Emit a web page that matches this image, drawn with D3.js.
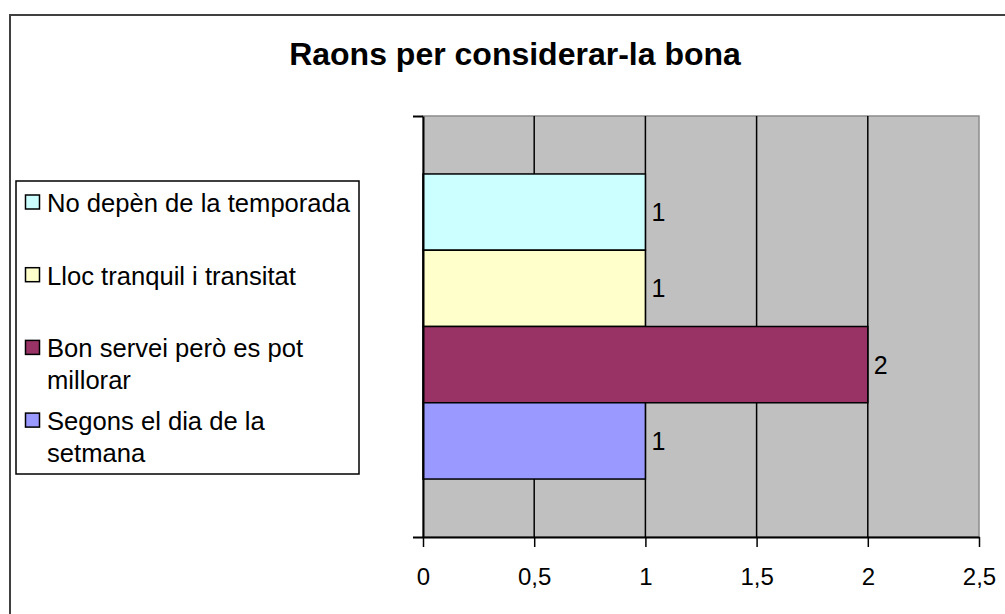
<!DOCTYPE html>
<html>
<head>
<meta charset="utf-8">
<script src="https://cdn.jsdelivr.net/npm/d3@7"></script>
<style>
  body { margin: 0; background: #fff; }
  text { font-family: "Liberation Sans", Arial, sans-serif; }
</style>
</head>
<body>
<div id="chart"></div>
<script>
// data
const series = ["No depèn de la temporada", "Lloc tranquil i transitat", "Bon servei però es pot millorar", "Segons el dia de la setmana"]
const legendLines = [["No depèn de la temporada"], ["Lloc tranquil i transitat"], ["Bon servei però es pot", "millorar"], ["Segons el dia de la", "setmana"]]
const values = [1, 1, 2, 1]
const colors = ["#CCFFFF", "#FFFFCC", "#993366", "#9999FF"]
const xTicks = [0, 0.5, 1, 1.5, 2, 2.5]

const W = 1005, H = 614
const plot = {left: 423, right: 979, top: 116, bottom: 537}

const svg = d3.select("#chart")
  .append("svg")
    .attr("width", W)
    .attr("height", H)

// outer frame (runs off the right and bottom of the picture)
svg.append("rect")
  .attr("x", 10).attr("y", 15)
  .attr("width", 1020).attr("height", 640)
  .attr("fill", "#fff")
  .attr("stroke", "#404040")
  .attr("stroke-width", 2)

svg.append("text")
  .attr("x", 515).attr("y", 65)
  .attr("text-anchor", "middle")
  .attr("font-size", 32)
  .attr("font-weight", "bold")
  .text("Raons per considerar-la bona")

const x = d3.scaleLinear()
  .domain([0, 2.5])
  .range([plot.left, plot.right])

const y = d3.scaleBand()
  .domain(series)
  .range([plot.top, plot.bottom])
  .paddingInner(0)
  .paddingOuter(0.76)

// plot background
svg.append("rect")
  .attr("x", plot.left).attr("y", plot.top)
  .attr("width", plot.right - plot.left)
  .attr("height", plot.bottom - plot.top)
  .attr("fill", "#C0C0C0")
  .attr("stroke", "#8c8c8c")
  .attr("stroke-width", 1.5)

// gridlines
svg.append("g")
  .selectAll("line")
  .data(xTicks.filter(d => d > 0 && d < 2.5))
  .join("line")
    .attr("x1", d => x(d)).attr("x2", d => x(d))
    .attr("y1", plot.top).attr("y2", plot.bottom)
    .attr("stroke", "#000")
    .attr("stroke-width", 1.5)

// bars
svg.append("g")
  .selectAll("rect")
  .data(series)
  .join("rect")
    .attr("x", x(0))
    .attr("y", d => y(d))
    .attr("width", (d, i) => x(values[i]) - x(0))
    .attr("height", y.bandwidth())
    .attr("fill", (d, i) => colors[i])
    .attr("stroke", "#000")
    .attr("stroke-width", 1.5)

// value labels
svg.append("g")
  .selectAll("text")
  .data(series)
  .join("text")
    .attr("x", (d, i) => x(values[i]) + 6)
    .attr("y", d => y(d) + y.bandwidth() / 2)
    .attr("dominant-baseline", "central")
    .attr("font-size", 25)
    .text((d, i) => values[i])

// x axis
const xAxis = svg.append("g")
  .attr("transform", `translate(0, ${plot.bottom})`)
  .call(d3.axisBottom(x)
    .tickValues(xTicks)
    .tickSize(10)
    .tickSizeOuter(0)
    .tickFormat(d => String(d).replace(".", ",")))
xAxis.select(".domain").attr("stroke", "#000").attr("stroke-width", 2)
xAxis.selectAll(".tick line").attr("stroke", "#000").attr("stroke-width", 1.5)
xAxis.selectAll("text")
  .attr("y", 48)
  .attr("dy", 0)
  .attr("font-size", 24)
  .attr("font-family", "Liberation Sans, Arial, sans-serif")
  .attr("fill", "#000")

// y axis: only the boundary ticks of the single category
const yEdge = d3.scaleLinear().domain([0, 1]).range([plot.bottom, plot.top])
const yAxis = svg.append("g")
  .attr("transform", `translate(${plot.left}, 0)`)
  .call(d3.axisLeft(yEdge).tickValues([0, 1]).tickSize(10).tickSizeOuter(0).tickFormat(""))
yAxis.select(".domain").attr("stroke", "#000").attr("stroke-width", 2)
yAxis.selectAll(".tick line").attr("stroke", "#000").attr("stroke-width", 2)

// legend
const legend = svg.append("g")
legend.append("rect")
  .attr("x", 16).attr("y", 181)
  .attr("width", 343).attr("height", 293)
  .attr("fill", "#fff")
  .attr("stroke", "#000")
  .attr("stroke-width", 1.5)

const item = legend.selectAll("g.item")
  .data(series)
  .join("g")
    .attr("class", "item")
    .attr("transform", (d, i) => `translate(0, ${212 + i * 72.7})`)

item.append("rect")
  .attr("x", 25.5).attr("y", -17)
  .attr("width", 14).attr("height", 14)
  .attr("fill", (d, i) => colors[i])
  .attr("stroke", "#000")
  .attr("stroke-width", 1.5)

item.append("text")
  .attr("font-size", 25.6)
  .selectAll("tspan")
  .data((d, i) => legendLines[i])
  .join("tspan")
    .attr("x", 47)
    .attr("y", (d, j) => j * 32)
    .text(d => d)
</script>
</body>
</html>
